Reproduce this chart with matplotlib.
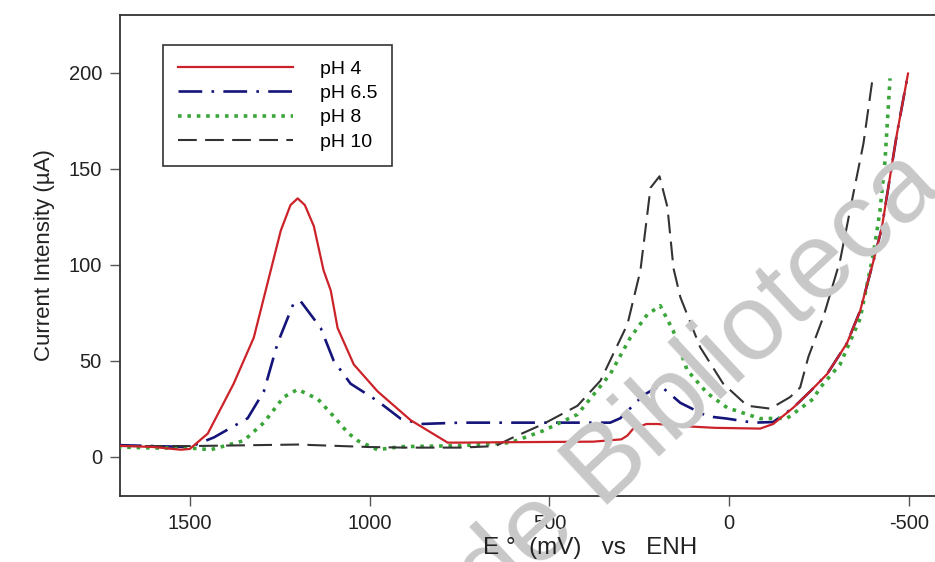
"""Voltammograms at four pH values (current vs potential), inverted x axis."""
import matplotlib.pyplot as plt

plt.rcParams["font.family"] = ["Liberation Sans", "DejaVu Sans"]

# pH 4
e_ph4 = [1700, 1600, 1525, 1500, 1450, 1378, 1322, 1289, 1247, 1220, 1200, 1180, 1155,
         1128, 1108, 1089, 1044, 978, 886, 783, 747, 628, 378, 300, 283, 267, 230, 200,
         100, 40, -86, -122, -178, -225, -272, -327, -364, -401, -424, -442, -466, -497]
i_ph4 = [5.7, 5, 3.6, 4, 12, 38, 62, 86.5, 117.7, 131, 134.5, 131, 120,
         97, 86.5, 67, 48, 34, 19, 7.3, 7.3, 7.5, 7.8, 9, 11, 14.6, 17, 17,
         15.6, 15, 14.6, 17, 25.5, 34, 43, 59, 76, 102, 119, 140, 168, 199.5]

# pH 6.5
e_ph65 = [1700, 1600, 1500, 1433, 1339, 1294, 1256, 1211, 1192, 1136, 1100, 1053, 978,
          914, 858, 747, 500, 331, 303, 239, 192, 136, 61, 6, -67, -122, -178, -225,
          -272, -327, -364, -401, -424, -442, -466, -497]
i_ph65 = [6, 5.5, 5, 10, 20, 34, 59, 80, 81, 67, 50, 38, 29,
          19.8, 17, 17.7, 17.7, 17.7, 20, 32, 37, 28, 21, 19.8, 17.7, 18, 25.5, 34,
          43, 59, 76, 102, 119, 140, 168, 199.5]

# pH 8
e_ph8 = [1700, 1600, 1500, 1442, 1350, 1294, 1239, 1200, 1144, 1100, 1061, 1033, 978,
         914, 747, 608, 517, 422, 331, 275, 228, 192, 156, 117, 61, 6, -86, -161,
         -233, -253, -308, -364, -401, -419, -433, -447]
i_ph8 = [5, 4.5, 4.5, 3.6, 8.3, 17.7, 31, 35, 30, 21, 12.5, 8.3, 3.6,
         5.2, 5.7, 7.3, 13.5, 22, 43, 62, 74, 78.6, 65.6, 45, 33, 25.5, 19.8, 20,
         30, 36, 48, 72, 106, 128, 154, 197]

# pH 10
e_ph10 = [1700, 1500, 1200, 1000, 900, 747, 650, 608, 517, 422, 358, 283, 247, 219,
          194, 172, 155, 136, 81, 17, -50, -114, -169, -197, -220, -262, -308, -345,
          -373, -397]
i_ph10 = [5.5, 5.5, 6.3, 5, 4.7, 4.7, 5.5, 9.4, 17, 26.5, 39.6, 69, 97, 140,
          146, 130, 98, 83, 57, 38, 26.5, 25, 31, 36, 52, 73, 102, 137,
          163, 195]

x_ticks = [1500, 1000, 500, 0, -500]
y_ticks = [0, 50, 100, 150, 200]

fig = plt.figure(figsize=(9.35, 5.62), dpi=100)
ax = fig.add_axes([120 / 935, 66 / 562, 1 - 120 / 935, 481 / 562])

ax.plot(e_ph4, i_ph4, color="#cc2229", lw=1.6, label="pH 4", zorder=4)
ax.plot(e_ph65, i_ph65, color="#14147a", lw=1.9, linestyle=(0, (9, 3.5, 1, 3.5)),
        label="pH 6.5", zorder=3)
ax.plot(e_ph8, i_ph8, color="#3aa63a", lw=2.6, linestyle=(0, (1, 1.6)),
        label="pH 8", zorder=3)
ax.plot(e_ph10, i_ph10, color="#333333", lw=1.5, linestyle=(0, (9, 4)),
        label="pH 10", zorder=3)

ax.set_xlim(1694, -572)
ax.set_ylim(-20.5, 230)
ax.set_xticks(x_ticks)
ax.set_xticklabels([str(v) for v in x_ticks])
ax.set_yticks(y_ticks)
ax.tick_params(direction="out", length=7, width=1, color="#555555",
               labelsize=14.5, labelcolor="#222222", pad=6)
for side in ("top", "left", "bottom"):
    ax.spines[side].set_color("#333333")
    ax.spines[side].set_linewidth(1.3)
ax.spines["right"].set_visible(False)

ax.set_ylabel("Current Intensity (\u00b5A)", fontsize=16, color="#222222", labelpad=10)
fig.text(483 / 935, 1 - 554 / 562, "E \u00b0  (mV)   vs   ENH", fontsize=17.5,
         ha="left", va="baseline", color="#222222")

# faint watermark across the plot
fig.text(718 / 935, 1 - 402 / 562, "de Biblioteca", fontsize=78, color="#c8c8c8",
         rotation=43, ha="center", va="baseline", rotation_mode="anchor", zorder=1)

leg = ax.legend(loc="upper left", bbox_to_anchor=((163 - 120) / 815, (496 - 45) / 481),
                borderaxespad=0, fontsize=14, handlelength=5.9, handletextpad=1.4,
                labelspacing=0.35, borderpad=0.77, fancybox=False, framealpha=1)
leg.get_frame().set_edgecolor("#333333")
leg.get_frame().set_linewidth(1.2)

fig.savefig("out.png", dpi=100)
